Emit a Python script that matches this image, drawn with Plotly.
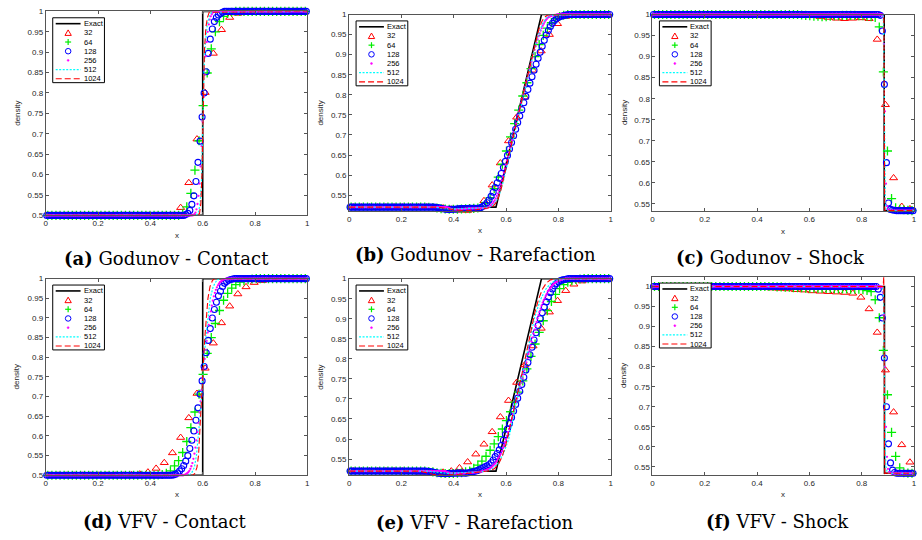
import numpy as np
import plotly.graph_objects as go

W, H = 922, 540

# ------------------------------------------------------------------ data
names = ["Exact", "32", "64", "128", "256", "512", "1024"]

# (a) Godunov - Contact
a_left, a_right = 0.5, 1.0
a_exact_x = [0.0, 0.6, 0.6, 1.0]
a_exact_y = [0.5, 0.5, 1.0, 1.0]
a_32_start = 16
a_32 = [0.519, 0.580, 0.687, 0.801, 0.897, 0.955, 0.985, 0.995]
a_64_start = 33
a_64 = [0.505, 0.521, 0.554, 0.611, 0.683, 0.769, 0.849, 0.908, 0.950, 0.975, 0.988, 0.995, 0.998]
a_128_start = 68
a_128 = [0.502, 0.505, 0.512, 0.527, 0.548, 0.583, 0.630, 0.682, 0.741, 0.800, 0.852, 0.897, 0.932,
         0.957, 0.975, 0.985, 0.991, 0.995, 0.998]
a_256_start = 144
a_256 = [0.501, 0.503, 0.507, 0.515, 0.528, 0.548, 0.578, 0.62, 0.67, 0.73, 0.79, 0.845, 0.89, 0.925,
         0.95, 0.968, 0.98, 0.988, 0.993, 0.997, 0.999]
a_512_x = [0, 0.575, 0.585, 0.59, 0.595, 0.6, 0.605, 0.61, 0.617, 0.625, 0.635, 1]
a_512_y = [0.5, 0.5, 0.51, 0.53, 0.58, 0.72, 0.85, 0.92, 0.965, 0.988, 0.998, 1]
a_1024_x = [0, 0.58, 0.588, 0.593, 0.597, 0.6, 0.603, 0.607, 0.612, 0.618, 0.625, 1]
a_1024_y = [0.5, 0.5, 0.505, 0.53, 0.6, 0.72, 0.83, 0.91, 0.96, 0.985, 0.998, 1]

# (b) Godunov - Rarefaction
b_left, b_right = 0.52, 1.0
b_exact_x = [0.0, 0.5615, 0.7355, 1.0]
b_exact_y = [0.52, 0.52, 1.0, 1.0]
b_32_start = 10
b_32 = [0.519, 0.518, 0.515, 0.512, 0.5115, 0.514, 0.536, 0.575, 0.630, 0.685, 0.744, 0.794, 0.861,
        0.909, 0.950, 0.977, 0.995]
b_64_start = 19
b_64 = [0.5195, 0.519, 0.518, 0.5165, 0.5155, 0.515, 0.5148, 0.515, 0.5155, 0.516, 0.5165, 0.517,
        0.518, 0.522, 0.530, 0.544, 0.566, 0.595, 0.627, 0.66, 0.695, 0.728, 0.762, 0.797, 0.83,
        0.865, 0.895, 0.925, 0.948, 0.966, 0.98, 0.99, 0.995, 0.998]
b_128_start = 42
b_128 = [0.5195, 0.519, 0.518, 0.5165, 0.5155, 0.515, 0.5145, 0.5145, 0.5148, 0.515, 0.5155, 0.516,
         0.5163, 0.5165, 0.5167, 0.5168, 0.5169, 0.517, 0.5171, 0.5172, 0.5174,
         0.517, 0.519, 0.522, 0.5255, 0.531, 0.538, 0.547, 0.557, 0.569, 0.581, 0.592, 0.604, 0.619,
         0.634, 0.649, 0.665, 0.681, 0.698, 0.714, 0.731, 0.747, 0.763, 0.78, 0.796, 0.813, 0.829,
         0.845, 0.861, 0.876, 0.891, 0.906, 0.921, 0.936, 0.949, 0.96, 0.97, 0.978, 0.985, 0.99,
         0.993, 0.995, 0.997, 0.998, 0.999]
b_256_start = 95
b_256 = [0.5195, 0.519, 0.518, 0.517, 0.516,
         0.5155, 0.515, 0.5148, 0.5146, 0.5145, 0.5145, 0.5146, 0.5148, 0.515, 0.5152, 0.5155, 0.5158,
         0.516, 0.5162, 0.5164, 0.5166, 0.5168, 0.517, 0.517, 0.517, 0.517, 0.517, 0.5171, 0.5172,
         0.5173, 0.5174, 0.5175, 0.5175, 0.5175, 0.5175, 0.5175, 0.5175, 0.5175,
         0.5175, 0.518, 0.519, 0.520, 0.522, 0.523, 0.5265, 0.529, 0.533, 0.537,
         0.542, 0.548, 0.554, 0.561, 0.569, 0.577, 0.587, 0.596, 0.606, 0.616,
         0.626, 0.636, 0.646, 0.656, 0.667, 0.677, 0.687, 0.697, 0.707, 0.718,
         0.728, 0.738, 0.749, 0.759, 0.769, 0.780, 0.790, 0.801, 0.811, 0.821,
         0.832, 0.842, 0.852, 0.863, 0.873, 0.883, 0.893, 0.902, 0.912, 0.921,
         0.929, 0.938, 0.946, 0.953, 0.960, 0.966, 0.972, 0.977, 0.982, 0.986,
         0.989, 0.992, 0.994, 0.995, 0.996, 0.997, 0.998, 0.998, 0.999, 0.999]
b_512_x = [0, 0.33, 0.38, 0.45, 0.52, 0.54, 0.555, 0.565, 0.575, 0.59, 0.65, 0.71, 0.725, 0.74, 0.755, 0.77, 1]
b_512_y = [0.52, 0.52, 0.5155, 0.517, 0.518, 0.521, 0.529, 0.538, 0.553, 0.585, 0.752, 0.918, 0.952,
           0.978, 0.992, 0.998, 1]
b_1024_x = [0, 0.34, 0.40, 0.44, 0.48, 0.53, 0.55, 0.56, 0.57, 0.58, 0.65, 0.715, 0.725, 0.735, 0.745, 0.76, 1]
b_1024_y = [0.52, 0.52, 0.514, 0.5105, 0.513, 0.518, 0.522, 0.53, 0.542, 0.562, 0.757, 0.94, 0.962,
            0.98, 0.992, 0.999, 1]

# (c) Godunov - Shock
c_left, c_right = 1.0, 0.534
c_exact_x = [0.0, 0.886, 0.886, 1.0]
c_exact_y = [1.0, 1.0, 0.534, 0.534]
c_32_start = 18
c_32 = [0.998, 0.997, 0.995, 0.993, 0.991, 0.99, 0.991, 0.992, 0.99, 0.9408, 0.7856, 0.6117, 0.5438, 0.538]
c_64_start = 36
c_64 = [0.999, 0.998, 0.997, 0.996, 0.996, 0.995, 0.995, 0.996, 0.997, 0.997, 0.998, 0.998, 0.998,
        0.998, 0.997, 0.997, 0.996, 0.995, 0.993,
        0.9705, 0.8636, 0.6757, 0.5625, 0.541, 0.537, 0.536, 0.535]
c_128_start = 109
c_128 = [1.0, 1.0, 0.998, 0.961, 0.834, 0.648, 0.552, 0.537, 0.5355, 0.535]
c_256_start = 224
c_256 = [1.0, 0.995, 0.93, 0.77, 0.598, 0.545, 0.537, 0.535]
c_512_x = [0, 0.879, 0.882, 0.884, 0.886, 0.888, 0.890, 0.893, 0.896, 1]
c_512_y = [1, 1, 0.995, 0.96, 0.82, 0.64, 0.56, 0.538, 0.534, 0.534]
c_1024_x = [0, 0.883, 0.8845, 0.8855, 0.8865, 0.8875, 0.8885, 0.8895, 0.891, 1]
c_1024_y = [1, 1, 0.99, 0.93, 0.75, 0.58, 0.532, 0.5335, 0.534, 0.534]

# (d) VFV - Contact
d_left, d_right = 0.5, 1.0
d_exact_x = [0.0, 0.6, 0.6, 1.0]
d_exact_y = [0.5, 0.5, 1.0, 1.0]
d_32_start = 10
d_32 = [0.501, 0.503, 0.508, 0.5175, 0.532, 0.557, 0.596, 0.646, 0.708, 0.772, 0.836, 0.8875, 0.93,
        0.961, 0.979, 0.99, 0.995, 0.998]
d_64_start = 27
d_64 = [0.501, 0.502, 0.505, 0.5115, 0.524, 0.5375, 0.558, 0.586, 0.621, 0.661, 0.7065, 0.7565, 0.81,
        0.85, 0.886, 0.919, 0.945, 0.9625, 0.976, 0.985, 0.991, 0.995, 0.997, 0.999]
d_128_start = 62
d_128 = [0.501, 0.503, 0.506, 0.511, 0.5165, 0.525, 0.536, 0.55, 0.568, 0.589, 0.6125, 0.64, 0.6715,
         0.7065, 0.74, 0.7765, 0.8115, 0.843, 0.873, 0.90, 0.9215, 0.94, 0.9565, 0.968, 0.98, 0.988,
         0.993, 0.996, 0.998, 0.999]
d_256_start = 135
d_256 = [0.501, 0.502, 0.5035, 0.5055, 0.508, 0.5115, 0.5165, 0.523, 0.531, 0.542, 0.555, 0.5705,
         0.589, 0.610, 0.6335, 0.660, 0.688, 0.717, 0.747, 0.772, 0.796, 0.819, 0.842, 0.863, 0.8825,
         0.901, 0.917, 0.9315, 0.944, 0.955, 0.964, 0.9715, 0.978, 0.983, 0.987, 0.991, 0.993, 0.995,
         0.997, 0.998, 0.999]
d_512_x = [0, 0.545, 0.557, 0.568, 0.576, 0.590, 0.600, 0.612, 0.629, 0.640, 0.653, 0.665, 1]
d_512_y = [0.5, 0.5, 0.505, 0.52, 0.55, 0.65, 0.75, 0.85, 0.95, 0.98, 0.995, 1, 1]
d_1024_x = [0, 0.562, 0.570, 0.578, 0.584, 0.593, 0.600, 0.608, 0.620, 0.628, 0.637, 0.645, 1]
d_1024_y = [0.5, 0.5, 0.505, 0.52, 0.55, 0.65, 0.75, 0.85, 0.95, 0.98, 0.995, 1, 1]

# (e) VFV - Rarefaction
e_left, e_right = 0.52, 1.0
e_exact_x = [0.0, 0.5615, 0.7355, 1.0]
e_exact_y = [0.52, 0.52, 1.0, 1.0]
e_32_start = 7
e_32 = [0.519, 0.517, 0.515, 0.514, 0.517, 0.52, 0.528, 0.5427, 0.5623, 0.587, 0.618, 0.655, 0.696,
        0.741, 0.785, 0.832, 0.876, 0.9165, 0.945, 0.97, 0.986, 0.994, 0.998]
e_64_start = 19
e_64 = [0.519, 0.518, 0.516, 0.5145, 0.514, 0.514, 0.514, 0.515, 0.516, 0.518, 0.52, 0.527, 0.535,
        0.545, 0.557, 0.572, 0.588, 0.606, 0.625, 0.646, 0.668, 0.692, 0.717, 0.745, 0.775, 0.806,
        0.837, 0.866, 0.895, 0.92, 0.943, 0.961, 0.975, 0.985, 0.991, 0.995, 0.998, 0.999]
e_128_start = 38
e_128 = [0.5195, 0.519, 0.518, 0.517, 0.516, 0.515, 0.5143, 0.514, 0.5138, 0.5138, 0.514, 0.5142,
         0.5145, 0.5147, 0.515, 0.515, 0.515, 0.515, 0.515,
         0.515, 0.516, 0.517, 0.518, 0.5195, 0.521, 0.523, 0.526, 0.5285, 0.531,
         0.533, 0.536, 0.541, 0.5475, 0.556, 0.564, 0.573, 0.584, 0.597, 0.611,
         0.625, 0.639, 0.654, 0.67, 0.686, 0.702, 0.719, 0.736, 0.754, 0.772,
         0.791, 0.81, 0.829, 0.847, 0.865, 0.883, 0.90, 0.915, 0.929, 0.942,
         0.954, 0.965, 0.974, 0.982, 0.988, 0.992, 0.995, 0.997, 0.998, 0.999]
e_256_start = 95
e_256 = [0.517, 0.5165, 0.516, 0.5155, 0.515, 0.5147, 0.5145, 0.5143, 0.5142, 0.5141, 0.514, 0.514,
         0.514, 0.514, 0.5141, 0.5142, 0.5143, 0.5145, 0.5147, 0.515, 0.5152, 0.5154, 0.5156, 0.5158,
         0.516, 0.5162, 0.5164, 0.5166,
         0.517, 0.517, 0.517, 0.518, 0.518, 0.518, 0.519, 0.5195, 0.520, 0.521,
         0.5215, 0.523, 0.524, 0.525, 0.526, 0.528, 0.530, 0.533, 0.535, 0.538,
         0.541, 0.545, 0.550, 0.554, 0.559, 0.563, 0.570, 0.578, 0.585, 0.592,
         0.599, 0.608, 0.617, 0.625, 0.634, 0.643, 0.652, 0.662, 0.672, 0.681,
         0.691, 0.701, 0.711, 0.721, 0.731, 0.740, 0.751, 0.761, 0.771, 0.781,
         0.791, 0.801, 0.812, 0.822, 0.833, 0.843, 0.853, 0.863, 0.873, 0.882,
         0.892, 0.901, 0.909, 0.917, 0.925, 0.933, 0.940, 0.946, 0.951, 0.957,
         0.962, 0.968, 0.971, 0.975, 0.978, 0.982, 0.985, 0.988, 0.989, 0.991,
         0.993, 0.995, 0.996, 0.996, 0.997, 0.998, 0.999, 0.999]
e_512_x = [0, 0.3, 0.38, 0.45, 0.5, 0.53, 0.55, 0.57, 0.59, 0.61, 0.66, 0.71, 0.73, 0.75, 0.77, 0.79, 0.81, 1]
e_512_y = [0.52, 0.52, 0.5145, 0.5155, 0.518, 0.521, 0.527, 0.54, 0.563, 0.60, 0.755, 0.905, 0.945,
           0.972, 0.988, 0.996, 0.999, 1]
e_1024_x = [0, 0.27, 0.32, 0.36, 0.42, 0.5, 0.54, 0.555, 0.57, 0.585, 0.6, 0.66, 0.71, 0.725, 0.74,
            0.755, 0.77, 0.79, 1]
e_1024_y = [0.52, 0.52, 0.512, 0.5095, 0.512, 0.517, 0.521, 0.526, 0.536, 0.556, 0.588, 0.76, 0.915,
            0.95, 0.975, 0.99, 0.997, 1, 1]

# (f) VFV - Shock
f_left, f_right = 1.0, 0.534
f_exact_x = [0.0, 0.887, 0.887, 1.0]
f_exact_y = [1.0, 1.0, 0.534, 0.534]
f_32_start = 11
f_32 = [0.999, 0.998, 0.997, 0.996, 0.995, 0.994, 0.992, 0.991, 0.989, 0.988, 0.987, 0.986, 0.985,
        0.983, 0.973, 0.944, 0.8854, 0.7914, 0.6867, 0.605, 0.5616]
f_64_start = 30
f_64 = [0.999, 0.999, 0.998, 0.998, 0.997, 0.997, 0.997, 0.996, 0.996, 0.996, 0.995, 0.995, 0.995,
        0.995, 0.994, 0.994, 0.994, 0.994, 0.993, 0.993, 0.993, 0.992, 0.99,
        0.987, 0.967, 0.922, 0.8405, 0.730, 0.636, 0.5763, 0.5476, 0.5354, 0.5345, 0.534]
f_128_start = 100
f_128 = [1.0, 1.0, 1.0, 1.0, 1.0, 1.0, 1.0, 1.0, 1.0, 1.0, 0.9934, 0.973, 0.9215, 0.8216, 0.70, 0.6075,
         0.56, 0.542, 0.536, 0.534]
f_256_start = 224
f_256 = [0.998, 0.985, 0.93, 0.80, 0.65, 0.575, 0.545, 0.537, 0.535]
f_512_x = [0, 0.878, 0.882, 0.884, 0.886, 0.888, 0.890, 0.893, 0.897, 0.902, 1]
f_512_y = [1, 1, 0.99, 0.95, 0.83, 0.68, 0.59, 0.55, 0.537, 0.534, 0.534]
f_1024_x = [0, 0.882, 0.8843, 0.8853, 0.8863, 0.8873, 0.8883, 0.8893, 0.8905, 0.893, 1]
f_1024_y = [1, 1, 1.0245, 0.97, 0.78, 0.60, 0.529, 0.531, 0.5335, 0.534, 0.534]

x_ticks = [0, 0.2, 0.4, 0.6, 0.8, 1.0]
x_tick_text = ["0", "0.2", "0.4", "0.6", "0.8", "1"]
y_ticks = [0.5, 0.55, 0.6, 0.65, 0.7, 0.75, 0.8, 0.85, 0.9, 0.95, 1.0]
y_tick_text = ["0.5", "0.55", "0.6", "0.65", "0.7", "0.75", "0.8", "0.85", "0.9", "0.95", "1"]

captions = ["<b>(a)</b> Godunov - Contact", "<b>(b)</b> Godunov - Rarefaction", "<b>(c)</b> Godunov - Shock",
            "<b>(d)</b> VFV - Contact", "<b>(e)</b> VFV - Rarefaction", "<b>(f)</b> VFV - Shock"]

G = globals()


def cells(n):
    return (np.arange(n) + 0.5) / n


def profile(n, left, start, vals, right):
    y = [left] * start + list(vals)
    y = y + [right] * (n - len(y))
    return y[:n]


# ------------------------------------------------------------------ layout (pixels)
panels = [
    ("a", 44, 307, 7.5, 215, [0.5, 1.0], 165, 259),
    ("b", 349, 612, 10.7, 210.7, [0.51, 1.0], 476, 255),
    ("c", 654, 917, 10.7, 211, [0.532, 1.0], 773, 258),
    ("d", 44, 307, 279.3, 479.3, [0.5, 1.0], 164, 526),
    ("e", 349, 612, 279.3, 479.3, [0.5095, 1.0], 475, 527),
    ("f", 654, 917, 277.3, 479.3, [0.529, 1.0245], 780, 526),
]


def px(x):
    return x / W


def py(y):
    return 1 - y / H


RED, GREEN, BLUE, MAG, CYAN = "#ff0000", "#00ee00", "#0000ff", "#ff00ff", "#00ffff"
AX = "#555555"
TICKFONT = dict(family="Liberation Sans, Arial, sans-serif", size=8, color="#262626")

fig = go.Figure()
layout = dict(width=W, height=H, margin=dict(l=0, r=0, t=0, b=0), paper_bgcolor="white",
              plot_bgcolor="white", showlegend=False)
shapes, annots = [], []

for k, (key, L, R, T, B, yr, cx, cy) in enumerate(panels):
    sfx = "" if k == 0 else str(k + 1)
    xa, ya = "x" + sfx, "y" + sfx
    common = dict(showline=True, mirror="ticks", linecolor=AX, linewidth=1, ticks="inside",
                  ticklen=3, tickcolor=AX, tickwidth=1, showgrid=False, zeroline=False,
                  tickfont=TICKFONT)
    layout["xaxis" + sfx] = dict(domain=[px(L), px(R)], range=[0, 1], anchor=ya,
                                 tickvals=x_ticks, ticktext=x_tick_text, **common)
    yt = [v for v in y_ticks if yr[0] - 1e-9 <= v <= yr[1] + 1e-9]
    ytt = [t for v, t in zip(y_ticks, y_tick_text) if yr[0] - 1e-9 <= v <= yr[1] + 1e-9]
    layout["yaxis" + sfx] = dict(domain=[py(B), py(T)], range=yr, anchor=xa,
                                 tickvals=yt, ticktext=ytt, **common)

    ex, ey = G[key + "_exact_x"], G[key + "_exact_y"]
    left, right = G[key + "_left"], G[key + "_right"]
    fig.add_trace(go.Scatter(x=ex, y=ey, mode="lines", line=dict(color="black", width=1.6),
                             xaxis=xa, yaxis=ya, name="Exact"))
    styles = {
        32: dict(symbol="triangle-up-open", size=7, color=RED, line=dict(width=1, color=RED)),
        64: dict(symbol="cross-thin-open", size=6.5, color=GREEN, line=dict(width=1.3, color=GREEN)),
        128: dict(symbol="circle-open", size=6, color=BLUE, line=dict(width=1.1, color=BLUE)),
        256: dict(symbol="circle", size=2.3, color=MAG, line=dict(width=0)),
    }
    for n in (32, 64, 128, 256):
        yv = profile(n, left, G[f"{key}_{n}_start"], G[f"{key}_{n}"], right)
        fig.add_trace(go.Scatter(x=cells(n), y=yv, mode="markers", marker=styles[n],
                                 cliponaxis=False, xaxis=xa, yaxis=ya, name=str(n)))
    fig.add_trace(go.Scatter(x=G[key + "_512_x"], y=G[key + "_512_y"], mode="lines",
                             line=dict(color=CYAN, width=1.2, dash="2px,1.5px"),
                             xaxis=xa, yaxis=ya, name="512"))
    fig.add_trace(go.Scatter(x=G[key + "_1024_x"], y=G[key + "_1024_y"], mode="lines",
                             line=dict(color=RED, width=1.1, dash="6px,3px"),
                             xaxis=xa, yaxis=ya, name="1024"))

    # axis titles
    annots.append(dict(x=px((L + R) / 2), y=py(B + 20), xref="paper", yref="paper", text="x",
                       showarrow=False, font=dict(family="Liberation Sans, Arial", size=8, color="#262626"),
                       xanchor="center", yanchor="middle"))
    annots.append(dict(x=px(L - 28.5), y=py((T + B) / 2), xref="paper", yref="paper", text="density",
                       showarrow=False, textangle=-90,
                       font=dict(family="Liberation Sans, Arial", size=8, color="#262626"),
                       xanchor="center", yanchor="middle"))
    # caption
    annots.append(dict(x=px(cx), y=py(cy), xref="paper", yref="paper", text=captions[k],
                       showarrow=False, font=dict(family="DejaVu Serif, serif", size=18, color="black"),
                       xanchor="center", yanchor="middle"))

    # legend box
    lx, ly = L + 7, T + 6.5
    shapes.append(dict(type="rect", xref="paper", yref="paper", x0=px(lx), x1=px(lx + 52),
                       y0=py(ly + 66), y1=py(ly), line=dict(color="black", width=1),
                       fillcolor="white", layer="above"))
    for j, nm in enumerate(names):
        ey_ = ly + 6 + 9.33 * j
        mx = lx + 15.5
        if nm in ("Exact", "512", "1024"):
            col = {"Exact": "black", "512": CYAN, "1024": RED}[nm]
            dash = {"Exact": "solid", "512": "2px,1.5px", "1024": "6px,3px"}[nm]
            wd = {"Exact": 1.6, "512": 1.2, "1024": 1.1}[nm]
            shapes.append(dict(type="line", xref="paper", yref="paper", x0=px(lx + 3), x1=px(lx + 28),
                               y0=py(ey_), y1=py(ey_), line=dict(color=col, width=wd, dash=dash),
                               layer="above"))
        elif nm == "32":
            path = (f"M {px(mx - 3.2)},{py(ey_ + 2.6)} L {px(mx + 3.2)},{py(ey_ + 2.6)} "
                    f"L {px(mx)},{py(ey_ - 3.0)} Z")
            shapes.append(dict(type="path", xref="paper", yref="paper", path=path,
                               line=dict(color=RED, width=1), layer="above"))
        elif nm == "64":
            shapes.append(dict(type="line", xref="paper", yref="paper", x0=px(mx - 3), x1=px(mx + 3),
                               y0=py(ey_), y1=py(ey_), line=dict(color=GREEN, width=1.2), layer="above"))
            shapes.append(dict(type="line", xref="paper", yref="paper", x0=px(mx), x1=px(mx),
                               y0=py(ey_ - 3), y1=py(ey_ + 3), line=dict(color=GREEN, width=1.2),
                               layer="above"))
        elif nm == "128":
            shapes.append(dict(type="circle", xref="paper", yref="paper", x0=px(mx - 2.8),
                               x1=px(mx + 2.8), y0=py(ey_ + 2.8), y1=py(ey_ - 2.8),
                               line=dict(color=BLUE, width=1), layer="above"))
        elif nm == "256":
            shapes.append(dict(type="circle", xref="paper", yref="paper", x0=px(mx - 1),
                               x1=px(mx + 1), y0=py(ey_ + 1), y1=py(ey_ - 1),
                               line=dict(color=MAG, width=0.5), fillcolor=MAG, layer="above"))
        annots.append(dict(x=px(lx + 29), y=py(ey_), xref="paper", yref="paper", text=nm,
                           showarrow=False, xanchor="left", yanchor="middle",
                           font=dict(family="Liberation Sans, Arial", size=7.5, color="black")))

layout["shapes"] = shapes
layout["annotations"] = annots
fig.update_layout(**layout)
fig.write_html("out.html")
